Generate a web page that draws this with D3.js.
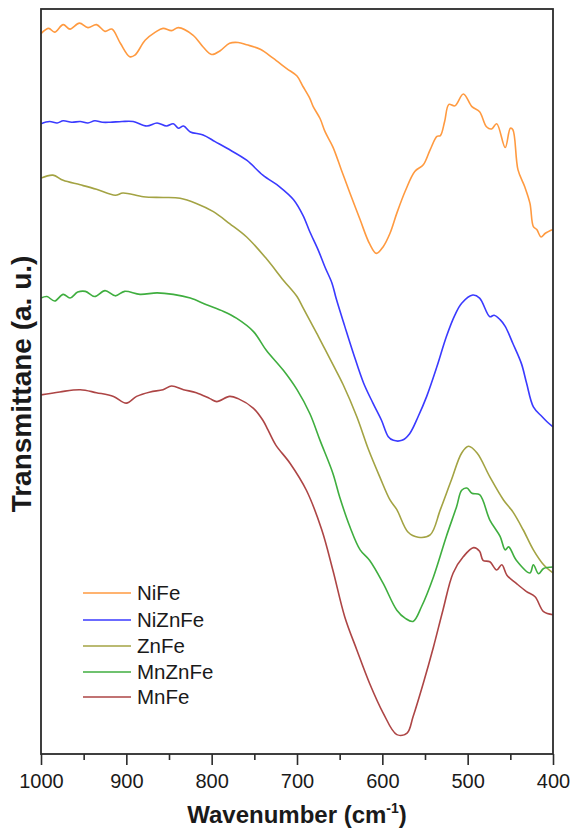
<!DOCTYPE html>
<html>
<head>
<meta charset="utf-8">
<script src="https://cdn.jsdelivr.net/npm/d3@7"></script>
<style>
  body { margin: 0; background: #fff; }
  svg text { font-family: "Liberation Sans", Arial, sans-serif; fill: #1a1a1a; }
</style>
</head>
<body>
<svg id="chart" width="572" height="833"></svg>
<script>
// FTIR spectra, [wavenumber, transmittance a.u.]
const niFe = [[1000,96.7],[991,97.4],[984,96.9],[974,97.9],[966,97.3],[955,98.1],[945,97.5],[935,97.9],[925,97.0],[917,97.3],[907,95.4],[896,93.6],[890,93.8],[878,95.8],[866,96.9],[857,97.4],[847,97.1],[839,97.5],[822,96.5],[810,94.9],[800,93.9],[790,94.4],[779,95.4],[769,95.5],[759,95.2],[743,94.6],[728,93.4],[712,92.0],[700,91.0],[693,89.6],[685,88.0],[681,86.9],[673,85.3],[667,83.5],[658,81.5],[648,78.4],[638,75.3],[626,71.7],[615,68.5],[607,67.2],[599,68.1],[591,69.9],[583,72.6],[573,75.6],[562,78.2],[552,79.1],[544,81.1],[536,82.9],[532,83.0],[527,84.9],[522,87.2],[515,87.0],[505,88.6],[495,86.9],[486,86.2],[478,84.2],[472,83.9],[466,84.6],[456,81.4],[450,84.0],[447,83.8],[441,78.4],[433,76.1],[427,73.9],[423,70.8],[419,70.4],[414,69.4],[409,69.9],[400,70.4]];
const niZnFe = [[1000,84.6],[990,84.9],[981,84.7],[974,85.0],[964,84.8],[954,84.9],[945,84.7],[937,85.0],[928,84.8],[919,84.8],[905,84.9],[892,84.9],[876,84.3],[864,84.7],[853,84.3],[845,84.6],[839,84.0],[833,84.3],[825,83.5],[810,83.1],[796,82.2],[782,81.3],[759,79.7],[740,77.7],[720,76.1],[704,74.4],[693,72.3],[685,70.1],[675,67.6],[667,65.3],[659,63.2],[654,61.1],[644,57.4],[634,53.8],[622,49.8],[611,47.1],[601,44.8],[593,42.6],[587,42.1],[577,42.1],[568,43.0],[558,45.3],[548,48.0],[536,52.0],[525,56.0],[515,58.9],[507,60.5],[494,61.6],[486,61.2],[474,58.7],[469,58.9],[462,58.3],[456,57.4],[447,55.1],[437,52.4],[431,49.8],[423,46.6],[413,45.3],[407,44.6],[400,43.9]];
const znFe = [[1000,77.3],[986,77.7],[974,77.0],[954,76.4],[935,75.8],[913,75.0],[904,75.3],[880,74.8],[857,74.7],[837,74.6],[818,73.9],[798,72.8],[779,71.2],[759,69.4],[736,66.5],[716,63.6],[700,61.4],[693,59.9],[685,58.2],[677,56.5],[668,54.5],[658,52.3],[646,49.6],[630,45.3],[616,40.8],[603,37.2],[591,34.1],[583,32.8],[570,29.8],[558,29.1],[544,29.4],[532,32.8],[519,36.8],[507,40.4],[499,41.3],[489,40.4],[474,37.2],[458,34.1],[447,32.5],[435,30.1],[423,27.4],[411,25.4],[400,24.3]];
const mnZnFe = [[1000,61.2],[993,61.4],[984,60.8],[974,61.7],[966,61.2],[957,62.0],[948,62.1],[937,61.4],[925,62.2],[913,61.5],[902,62.1],[884,61.7],[864,61.9],[845,61.7],[825,61.2],[806,60.3],[786,59.4],[771,58.5],[751,56.7],[736,54.2],[716,51.5],[700,48.9],[685,45.7],[673,42.1],[658,37.7],[650,34.5],[638,30.5],[626,27.4],[615,26.0],[599,22.9],[583,19.3],[573,18.2],[564,17.8],[554,19.8],[540,23.8],[525,29.2],[513,33.2],[507,35.4],[501,35.7],[495,35.0],[486,34.8],[474,31.4],[462,29.2],[456,27.4],[452,27.8],[443,26.0],[427,24.3],[423,25.4],[417,24.2],[411,24.9],[400,25.1]];
const mnFe = [[1000,48.2],[978,48.6],[954,48.9],[935,48.5],[915,48.0],[900,47.1],[888,48.0],[872,48.6],[857,48.9],[847,49.4],[833,48.9],[818,48.5],[802,47.7],[794,47.3],[779,48.0],[769,47.7],[751,46.4],[740,44.8],[734,43.5],[725,41.5],[708,39.0],[689,35.4],[671,30.1],[658,24.7],[644,18.4],[630,14.0],[615,9.5],[599,5.5],[583,2.6],[571,2.8],[564,5.0],[552,9.5],[540,14.4],[529,19.3],[517,24.3],[505,26.5],[493,27.7],[486,27.2],[482,26.0],[474,25.8],[466,24.7],[460,25.4],[454,24.0],[443,22.9],[431,21.8],[421,21.1],[411,19.1],[400,18.7]];

const seriesNames = ["NiFe", "NiZnFe", "ZnFe", "MnZnFe", "MnFe"];
const seriesData = [niFe, niZnFe, znFe, mnZnFe, mnFe];
const seriesColors = ["#ff9a40", "#3a3aff", "#a3a343", "#3fae3f", "#ad4545"];
const majorTicks = [1000, 900, 800, 700, 600, 500, 400];
const minorTicks = [950, 850, 750, 650, 550, 450];

const svg = d3.select("#chart");
const plotLeft = 41, plotRight = 553, plotTop = 9, plotBottom = 754;

const x = d3.scaleLinear().domain([1000, 400]).range([plotLeft, plotRight]);
const y = d3.scaleLinear().domain([0, 100]).range([plotBottom, plotTop]);

const line = d3.line()
    .curve(d3.curveCatmullRom.alpha(0.5))
    .x(d => x(d[0]))
    .y(d => y(d[1]));

// spectra
seriesData.forEach((data, i) => {
    svg.append("path")
        .datum(data)
        .attr("fill", "none")
        .attr("stroke", seriesColors[i])
        .attr("stroke-width", 1.6)
        .attr("stroke-linejoin", "round")
        .attr("d", line);
});

// frame
svg.append("rect")
    .attr("x", plotLeft).attr("y", plotTop)
    .attr("width", plotRight - plotLeft).attr("height", plotBottom - plotTop)
    .attr("fill", "none")
    .attr("stroke", "#2b2b2b")
    .attr("stroke-width", 1.8);

// x axis
const xAxis = svg.append("g")
    .attr("transform", `translate(0,${plotBottom})`)
    .call(d3.axisBottom(x).tickValues(majorTicks).tickSize(11).tickFormat(d3.format("d")));
xAxis.select(".domain").remove();
xAxis.selectAll(".tick line").attr("stroke", "#2b2b2b").attr("stroke-width", 1.6);
xAxis.selectAll(".tick text")
    .attr("y", 34).attr("dy", 0)
    .style("font-size", "20px");

const xMinor = svg.append("g")
    .attr("transform", `translate(0,${plotBottom})`)
    .call(d3.axisBottom(x).tickValues(minorTicks).tickSize(6).tickFormat(""));
xMinor.select(".domain").remove();
xMinor.selectAll(".tick line").attr("stroke", "#2b2b2b").attr("stroke-width", 1.6);

// axis titles
const xTitle = svg.append("text")
    .attr("x", (plotLeft + plotRight) / 2)
    .attr("y", 823)
    .attr("text-anchor", "middle")
    .style("font-size", "24px")
    .style("font-weight", "bold");
xTitle.append("tspan").text("Wavenumber (cm");
xTitle.append("tspan").attr("dy", -10).style("font-size", "14px").text("-1");
xTitle.append("tspan").attr("dy", 10).text(")");

svg.append("text")
    .attr("transform", "translate(31,384) rotate(-90)")
    .attr("text-anchor", "middle")
    .style("font-size", "28px")
    .style("font-weight", "bold")
    .text("Transmittane (a. u.)");

// legend
const legendY = [593, 620, 646, 672, 697];
seriesNames.forEach((name, i) => {
    svg.append("line")
        .attr("x1", 83).attr("x2", 131)
        .attr("y1", legendY[i]).attr("y2", legendY[i])
        .attr("stroke", seriesColors[i])
        .attr("stroke-width", 1.6);
    svg.append("text")
        .attr("x", 137)
        .attr("y", legendY[i])
        .attr("dy", "0.35em")
        .style("font-size", "20.5px")
        .text(name);
});
</script>
</body>
</html>
